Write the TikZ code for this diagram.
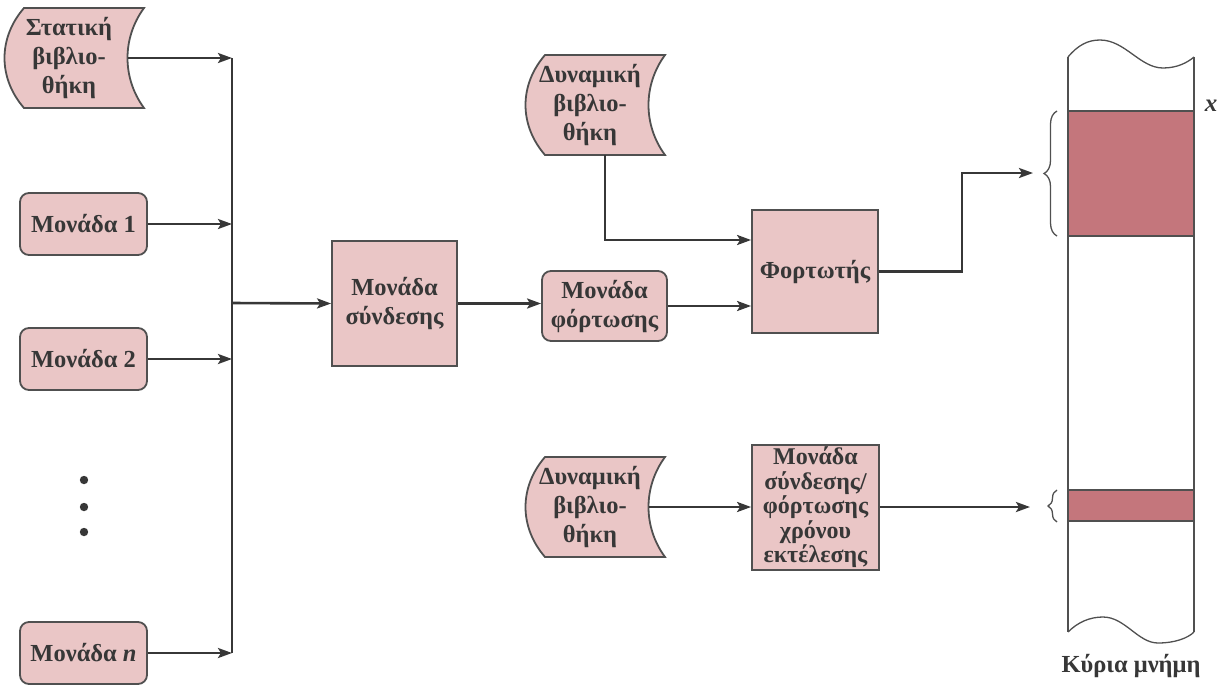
\documentclass[tikz,border=0pt]{standalone}
\usepackage{fontspec}
\setmainfont{Liberation Serif}
\usetikzlibrary{arrows.meta,decorations.pathreplacing}
\definecolor{boxfill}{RGB}{234,198,198}
\definecolor{memfill}{RGB}{196,118,124}
\definecolor{edge}{RGB}{80,80,80}
\definecolor{ink}{RGB}{55,55,55}

% stored-data shape: convex left side, concave right side, 120 x 100
% #1 name, #2 x of the top-left corner, #3 y of the top edge, #4 text
\newcommand{\libshape}[4]{%
  \draw[draw=edge, fill=boxfill, line width=1.8pt]
    (#2,#3) -- ({#2+120},#3)
    .. controls ({#2+98},{#3+30}) and ({#2+98},{#3+70}) .. ({#2+120},{#3+100})
    -- (#2,{#3+100})
    .. controls ({#2-26},{#3+70}) and ({#2-26},{#3+30}) .. cycle;
  \node[lbl] (#1) at ({#2+45},{#3+50}) {#4};
  \coordinate (#1-out) at ({#2+103.5},{#3+50});
  \coordinate (#1-bot) at ({#2+60},{#3+100});
}

\begin{document}
\begin{tikzpicture}[x=1pt,y=-1pt,
  lbl/.style={font=\fontsize{24.5}{29}\selectfont\bfseries, text=ink, align=center, inner sep=0pt},
  unit/.style={lbl, draw=edge, fill=boxfill, line width=1.8pt, minimum width=127pt, minimum height=62pt},
  roundunit/.style={unit, rounded corners=9pt},
  sqbox/.style={unit, minimum width=125pt, minimum height=125pt},
  arr/.style={draw=ink, line width=2.6pt, -{Stealth[length=14pt,width=10pt,inset=3pt]}},
  wire/.style={draw=ink, line width=2.6pt},
  thinline/.style={draw=edge, line width=1.3pt}]

\useasboundingbox (0,0) rectangle (1222,686);

% sources on the left
\libshape{static}{24}{8}{Στατική\\βιβλιο-\\θήκη}
\node[roundunit] (mod1) at (83.5,224) {Μονάδα 1};
\node[roundunit] (mod2) at (83.5,359) {Μονάδα 2};
\node[roundunit] (modn) at (83.5,653) {Μονάδα \textit{n}};
\fill[ink] (84,480) circle (4.2) (84,507) circle (4.2) (84,532) circle (4.2);

% linker and loaders
\node[sqbox] (link) at (394.5,303.5) {Μονάδα\\σύνδεσης};
\node[roundunit, minimum width=125pt, minimum height=70pt] (loadmod) at (604.5,306) {Μονάδα\\φόρτωσης};
\node[sqbox, minimum width=126pt, minimum height=123pt] (loader) at (815,271.5) {Φορτωτής};
\libshape{dyn1}{545}{55}{Δυναμική\\βιβλιο-\\θήκη}
\libshape{dyn2}{545}{457}{Δυναμική\\βιβλιο-\\θήκη}
\node[sqbox, font=\fontsize{24}{24.5}\selectfont\bfseries, minimum width=127pt] (rt) at (815.5,507.5)
  {Μονάδα\\σύνδεσης/\\φόρτωσης\\χρόνου\\εκτέλεσης};

% main memory column
\draw[thinline] (1068,57) -- (1068,632);
\draw[thinline] (1194,57) -- (1194,632);
\draw[thinline] (1068,57) .. controls (1078,45) and (1088,40) .. (1100,40)
  .. controls (1125,40) and (1140,68) .. (1163,68)
  .. controls (1178,68) and (1188,62) .. (1194,57);
\draw[thinline] (1068,632) .. controls (1078,622) and (1090,617) .. (1103,617)
  .. controls (1125,617) and (1138,643) .. (1158,643)
  .. controls (1175,643) and (1188,638) .. (1194,632);
\draw[thinline, fill=memfill] (1068,111) rectangle (1194,236);
\draw[thinline, fill=memfill] (1068,490) rectangle (1194,521);
\draw[thinline, decorate, decoration={brace, amplitude=13pt}] (1057,236) -- (1057,111);
\draw[thinline, decorate, decoration={brace, amplitude=9pt}] (1057,522) -- (1057,490);
\coordinate (tip1) at (1033,173);
\coordinate (tip2) at (1030,507);
\node[lbl, font=\fontsize{25}{29}\selectfont\bfseries\itshape] (xmark) at (1211,106) {x};
\node[lbl] (mem) at (1131,666) {Κύρια μνήμη};

% connectors
\coordinate (bus) at (232,303);
\draw[wire] (static-out -| bus) -- (modn.east -| bus);
\draw[arr] (static-out) -- (static-out -| bus);
\draw[arr] (mod1.east) -- (mod1.east -| bus);
\draw[arr] (mod2.east) -- (mod2.east -| bus);
\draw[arr] (modn.east) -- (modn.east -| bus);
\draw[arr] (bus) -- (link.west);
\draw[arr] (link.east) -- (link.east -| loadmod.west);
\draw[arr] (loadmod.east) -- (loadmod.east -| loader.west);
\draw[arr] (dyn1-bot) |- ([yshift=31.5pt]loader.west);
\draw[arr] (loader.east) -- ++(83,0) |- (tip1);
\draw[arr] (dyn2-out) -- (dyn2-out -| rt.west);
\draw[arr] (rt.east |- tip2) -- (tip2);
\end{tikzpicture}
\end{document}
